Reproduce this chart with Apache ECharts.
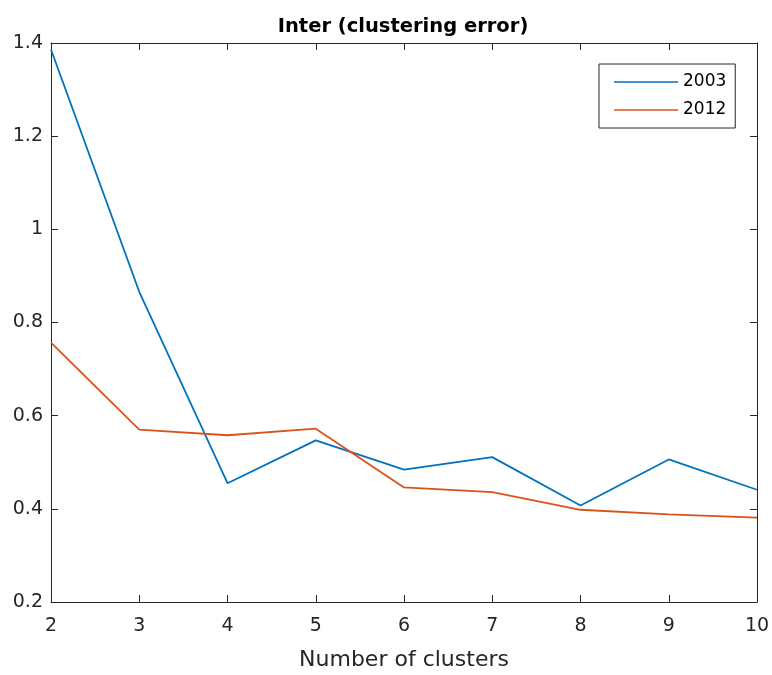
<!DOCTYPE html>
<html><head><meta charset="utf-8">
<script src="https://cdn.jsdelivr.net/npm/echarts@6/dist/echarts.min.js"></script>
<style>html,body{margin:0;padding:0;background:#fff}#c{width:772px;height:675px}</style>
</head><body><div id="c"></div>
<script>
const clusters = [2, 3, 4, 5, 6, 7, 8, 9, 10];
const series2003 = [1.386, 0.866, 0.455, 0.547, 0.484, 0.511, 0.407, 0.506, 0.441];
const series2012 = [0.757, 0.570, 0.558, 0.572, 0.446, 0.436, 0.398, 0.388, 0.381];
const yTicks = [0.2, 0.4, 0.6, 0.8, 1, 1.2, 1.4];
const titleText = 'Inter (clustering error)';
const xName = 'Number of clusters';
const seriesNames = ['2003', '2012'];

const FONT = '"DejaVu Sans", "Liberation Sans", Arial, sans-serif';
const AX = '#262626';
const chart = echarts.init(document.getElementById('c'), null, {renderer: 'canvas'});
const pair = (xs, ys) => xs.map((x, i) => [x, ys[i]]);
const baseX = {
  type: 'value', min: clusters[0], max: clusters[clusters.length - 1], interval: 1,
  axisLine: {show: true, lineStyle: {color: AX, width: 1}},
  axisTick: {show: true, inside: true, length: 7, lineStyle: {color: AX}},
  splitLine: {show: false}
};
const baseY = {
  type: 'value', min: yTicks[0], max: yTicks[yTicks.length - 1], interval: 0.2,
  axisLine: {show: true, lineStyle: {color: AX, width: 1}},
  axisTick: {show: true, inside: true, length: 7, lineStyle: {color: AX}},
  splitLine: {show: false}
};
chart.setOption({
  animation: false,
  backgroundColor: '#fff',
  title: {
    text: titleText, left: 398, top: 12, textAlign: 'center',
    textStyle: {fontFamily: FONT, fontSize: 19.5, fontWeight: 'bold', color: '#000'}
  },
  grid: {left: 51, right: 15, top: 43, bottom: 73, containLabel: false, outerBoundsMode: 'none'},
  legend: {
    orient: 'vertical', left: 599, top: 64,
    padding: [9.5, 9, 9.5, 15], itemGap: 11, itemWidth: 64, itemHeight: 14,
    borderColor: '#262626', borderWidth: 1, backgroundColor: '#fff',
    textStyle: {fontFamily: FONT, fontSize: 17, lineHeight: 17, color: '#000'},
    data: seriesNames.map(n => ({name: n, icon: 'path://M0,0L64,0L64,1.5L0,1.5Z'}))
  },
  xAxis: [
    Object.assign({}, baseX, {
      position: 'bottom',
      name: xName, nameLocation: 'middle', nameGap: 47,
      nameTextStyle: {fontFamily: FONT, fontSize: 22, color: AX},
      axisLabel: {fontFamily: FONT, fontSize: 19, color: AX, margin: 15}
    }),
    Object.assign({}, baseX, {position: 'top', axisLabel: {show: false}})
  ],
  yAxis: [
    Object.assign({}, baseY, {
      position: 'left',
      axisLabel: {fontFamily: FONT, fontSize: 19, color: AX, margin: 8, padding: [5, 0, 0, 0],
        formatter: v => String(Math.round(v * 10) / 10)}
    }),
    Object.assign({}, baseY, {position: 'right', axisLabel: {show: false}})
  ],
  series: [
    {name: seriesNames[0], type: 'line', data: pair(clusters, series2003), symbol: 'none',
     lineStyle: {color: '#0072BD', width: 1.8}, itemStyle: {color: '#0072BD'}},
    {name: seriesNames[1], type: 'line', data: pair(clusters, series2012), symbol: 'none',
     lineStyle: {color: '#D95319', width: 1.8}, itemStyle: {color: '#D95319'}}
  ]
});
</script></body></html>
